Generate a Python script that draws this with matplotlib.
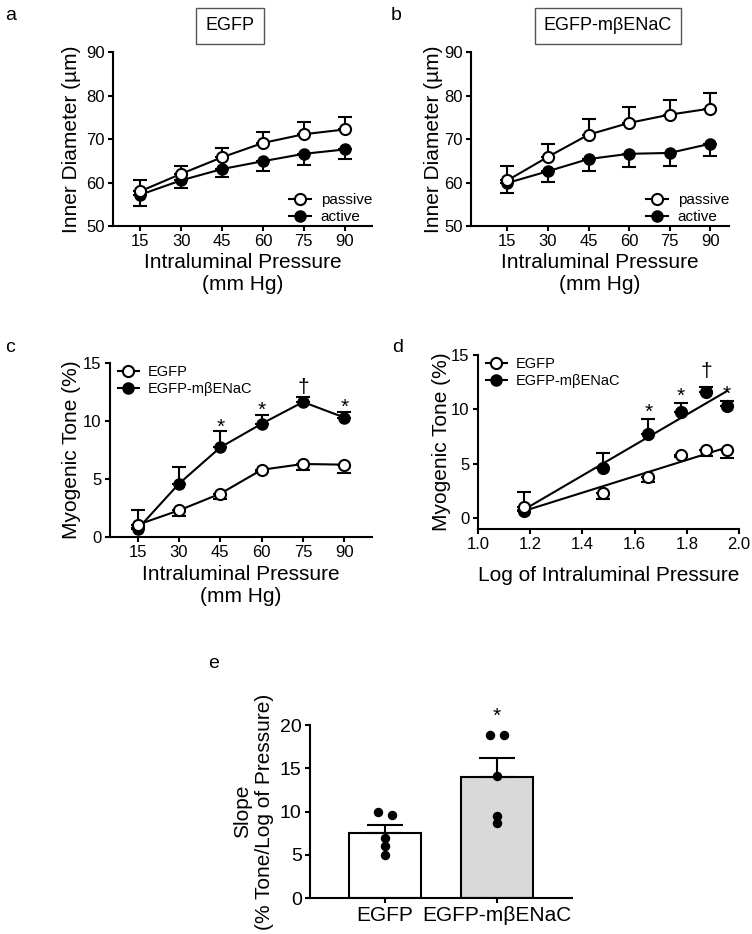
import numpy as np
import matplotlib
matplotlib.use("Agg")
import matplotlib.pyplot as plt
from matplotlib.lines import Line2D

plt.rcParams["font.family"] = ["Liberation Sans", "DejaVu Sans"]
plt.rcParams["axes.linewidth"] = 1.5
plt.rcParams["xtick.major.width"] = 1.5
plt.rcParams["ytick.major.width"] = 1.5
plt.rcParams["xtick.major.size"] = 3.5
plt.rcParams["ytick.major.size"] = 3.5
plt.rcParams["xtick.labelsize"] = 12
plt.rcParams["ytick.labelsize"] = 12

# pressure steps (mm Hg)
pressure = [15, 30, 45, 60, 75, 90]

# panel a: EGFP inner diameter (um), mean and SEM
egfp_passive = [58.0, 62.0, 65.8, 69.1, 71.1, 72.2]
egfp_passive_sem = [2.6, 1.9, 2.1, 2.5, 2.9, 2.9]
egfp_active = [57.2, 60.5, 63.1, 64.9, 66.6, 67.6]
egfp_active_sem = [2.5, 1.8, 1.9, 2.3, 2.5, 2.3]

# panel b: EGFP-mbENaC inner diameter (um)
enac_passive = [60.5, 65.9, 71.0, 73.7, 75.6, 77.0]
enac_passive_sem = [3.4, 3.0, 3.7, 3.7, 3.4, 3.5]
enac_active = [59.9, 62.6, 65.4, 66.6, 66.8, 68.9]
enac_active_sem = [2.3, 2.5, 2.8, 3.0, 2.9, 2.9]

# panels c/d: myogenic tone (%)
tone_egfp = [1.06, 2.3, 3.74, 5.8, 6.3, 6.24]
tone_egfp_sem = [0.3, 0.5, 0.45, 0.2, 0.55, 0.75]
tone_enac = [0.69, 4.6, 7.73, 9.77, 11.64, 10.3]
tone_enac_sem = [1.67, 1.4, 1.37, 0.78, 0.46, 0.5]

# significance marks above EGFP-mbENaC points (index, symbol)
marks = [(2, "*"), (3, "*"), (4, "\u2020"), (5, "*")]

# panel e: individual slopes
groups = ["EGFP", "EGFP-m\u03b2ENaC"]
slopes_egfp = [10.0, 9.6, 6.9, 6.07, 4.95]
slopes_enac = [18.9, 18.9, 14.1, 9.5, 8.64]

MS = 8
fig = plt.figure(figsize=(7.52, 9.34), dpi=100)


def style_axis(ax):
    ax.spines["top"].set_visible(False)
    ax.spines["right"].set_visible(False)
    ax.tick_params(direction="out", pad=2.5)


def legend_handles():
    return [
        Line2D([], [], color="k", marker="o", mfc="white", mew=1.5, ms=MS, lw=1.5),
        Line2D([], [], color="k", marker="o", mfc="k", ms=MS, lw=1.5),
    ]


def diameter_panel(rect, passive, passive_sem, active, active_sem, xlim, ylabel_x):
    ax = fig.add_axes(rect)
    zeros = np.zeros(len(pressure))
    ax.errorbar(pressure, active, yerr=[active_sem, zeros], fmt="o-", color="k",
                mfc="k", ms=MS, lw=1.5, elinewidth=1.5, capsize=5, capthick=1.5, zorder=2)
    ax.errorbar(pressure, passive, yerr=[zeros, passive_sem], fmt="o-", color="k",
                mfc="white", mew=1.5, ms=MS, lw=1.5, elinewidth=1.5, capsize=5, capthick=1.5, zorder=3)
    ax.set_xlim(*xlim)
    ax.set_ylim(50, 90)
    ax.set_xticks(pressure)
    ax.set_yticks([50, 60, 70, 80, 90])
    style_axis(ax)
    ax.set_ylabel("Inner Diameter (\u00b5m)", fontsize=15)
    ax.yaxis.set_label_coords(ylabel_x, 0.5)
    ax.set_xlabel("Intraluminal Pressure\n(mm Hg)", fontsize=15)
    ax.xaxis.set_label_coords(0.5, -0.155)
    ax.legend(legend_handles(), ["passive", "active"], loc="lower right", bbox_to_anchor=(1.0, 0.01),
              frameon=False, fontsize=11, borderpad=0, borderaxespad=0,
              handlelength=1.45, handletextpad=0.6, labelspacing=0.2)
    return ax


ax_a = diameter_panel([0.1503, 0.758, 0.3444, 0.1863], egfp_passive, egfp_passive_sem,
                      egfp_active, egfp_active_sem, (5, 100), -0.124)
ax_b = diameter_panel([0.6263, 0.758, 0.3431, 0.1863], enac_passive, enac_passive_sem,
                      enac_active, enac_active_sem, (1.5, 97), -0.11)

box = dict(boxstyle="square,pad=0.5", fc="white", ec="#555555", lw=1)
fig.text(230 / 752, 1 - 26 / 934, "EGFP", ha="center", va="center", fontsize=13, bbox=box)
fig.text(608 / 752, 1 - 26 / 934, "EGFP-m\u03b2ENaC", ha="center", va="center", fontsize=13, bbox=box)


def tone_legend(ax, anchor):
    ax.legend(legend_handles(), groups, loc="upper left", bbox_to_anchor=anchor,
              frameon=False, fontsize=10.5, borderpad=0, borderaxespad=0,
              handlelength=1.45, handletextpad=0.6, labelspacing=0.2)


def add_marks(ax, xs, star_dy, dagger_dy):
    for i, sym in marks:
        dy = dagger_dy if sym == "\u2020" else star_dy
        ax.annotate(sym, (xs[i], tone_enac[i] + tone_enac_sem[i]), xytext=(0, dy),
                    textcoords="offset points", ha="center", va="bottom", fontsize=15)


# panel c
ax_c = fig.add_axes([0.1463, 0.425, 0.3484, 0.1863])
zeros = np.zeros(len(pressure))
ax_c.errorbar(pressure, tone_enac, yerr=[zeros, tone_enac_sem], fmt="o-", color="k",
              mfc="k", ms=MS, lw=1.5, elinewidth=1.5, capsize=5, capthick=1.5, zorder=2)
ax_c.errorbar(pressure, tone_egfp, yerr=[tone_egfp_sem, zeros], fmt="o-", color="k",
              mfc="white", mew=1.5, ms=MS, lw=1.5, elinewidth=1.5, capsize=5, capthick=1.5, zorder=3)
add_marks(ax_c, pressure, -4, 0)
ax_c.set_xlim(5, 100)
ax_c.set_ylim(0, 15)
ax_c.set_xticks(pressure)
ax_c.set_yticks([0, 5, 10, 15])
style_axis(ax_c)
ax_c.set_ylabel("Myogenic Tone (%)", fontsize=15)
ax_c.yaxis.set_label_coords(-0.111, 0.5)
ax_c.set_xlabel("Intraluminal Pressure\n(mm Hg)", fontsize=15)
ax_c.xaxis.set_label_coords(0.5, -0.16)
tone_legend(ax_c, (0.03, 0.99))

# panel d: tone vs log pressure with linear fits
log_p = np.log10(pressure)
ax_d = fig.add_axes([0.6356, 0.4336, 0.3471, 0.1863])
for tone, sem, face, up in [(tone_enac, tone_enac_sem, "k", True), (tone_egfp, tone_egfp_sem, "white", False)]:
    k, b0 = np.polyfit(log_p, tone, 1)
    fx = np.array([log_p[0], log_p[-1]])
    ax_d.plot(fx, k * fx + b0, color="k", lw=1.5, zorder=1)
    err = [zeros, sem] if up else [sem, zeros]
    ax_d.errorbar(log_p, tone, yerr=err, fmt="o", color="k", mfc=face, mew=1.5, ms=MS,
                  elinewidth=1.5, capsize=5, capthick=1.5, zorder=3 if face == "white" else 2)
add_marks(ax_d, log_p, -2, 4)
ax_d.set_xlim(1.0, 2.0)
ax_d.set_ylim(-1, 15)
ax_d.set_xticks([1.0, 1.2, 1.4, 1.6, 1.8, 2.0])
ax_d.set_yticks([0, 5, 10, 15])
style_axis(ax_d)
ax_d.set_ylabel("Myogenic Tone (%)", fontsize=15)
ax_d.yaxis.set_label_coords(-0.103, 0.5)
ax_d.set_xlabel("Log of Intraluminal Pressure", fontsize=15)
ax_d.xaxis.set_label_coords(0.5, -0.215)
tone_legend(ax_d, (0.03, 0.99))

# panel e: slope bars with individual points
ax_e = fig.add_axes([0.4122, 0.0385, 0.3484, 0.1852])
samples = [slopes_egfp, slopes_enac]
means = [np.mean(s) for s in samples]
sems = [np.std(s, ddof=1) / np.sqrt(len(s)) for s in samples]
xpos = np.arange(len(groups))
ax_e.bar(xpos, means, width=0.65, color=["white", "#d9d9d9"], edgecolor="k", lw=1.5, zorder=1)
ax_e.errorbar(xpos, means, yerr=[[0, 0], sems], fmt="none", ecolor="k", elinewidth=1.5,
              capsize=13, capthick=1.5, zorder=2)
jitter = [-0.065, 0.065, 0, 0, 0]
for xi, s in zip(xpos, samples):
    ax_e.plot(xi + np.array(jitter), s, "o", color="k", ms=5.8, zorder=3)
ax_e.text(xpos[1], means[1] + sems[1] + 4.8, "*", ha="center", va="center", fontsize=15)
ax_e.set_xlim(-0.67, 1.67)
ax_e.set_ylim(0, 20)
ax_e.set_xticks(xpos)
ax_e.set_xticklabels(groups, fontsize=15)
ax_e.set_yticks([0, 5, 10, 15, 20])
ax_e.tick_params(axis="y", labelsize=14)
style_axis(ax_e)
ax_e.set_ylabel("Slope\n(% Tone/Log of Pressure)", fontsize=15)
ax_e.yaxis.set_label_coords(-0.137, 0.5)

# panel letters
for x, y, s in [(5, 20, "a"), (391, 20, "b"), (5, 352, "c"), (392, 352, "d"), (208, 668, "e")]:
    fig.text(x / 752, 1 - y / 934, s, fontsize=14, va="baseline", ha="left")

fig.savefig("out.png", dpi=100)
